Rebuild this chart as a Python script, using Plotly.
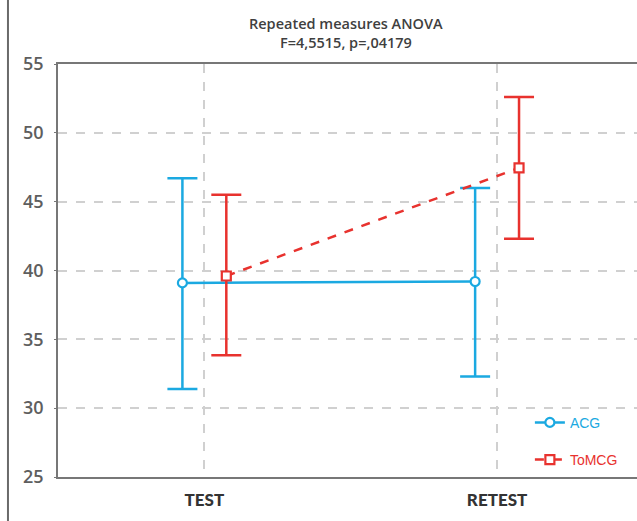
import plotly.graph_objects as go

# Sessions (x categories)
sessions = ["TEST", "RETEST"]

# Group means with confidence limits
acg_mean = [39.1, 39.2]
acg_upper = [46.7, 46.0]
acg_lower = [31.4, 32.3]

tomcg_mean = [39.6, 47.45]
tomcg_upper = [45.5, 52.6]
tomcg_lower = [33.85, 42.3]

y_ticks = [25, 30, 35, 40, 45, 50, 55]

BLUE = "#1BA9E1"
RED = "#E8322E"
OFFSET = 0.075

fig = go.Figure()


def add_group(name, mean, upper, lower, color, symbol, dash, shift):
    xs = [i + shift for i in range(len(sessions))]
    fig.add_trace(go.Scatter(
        x=xs, y=mean,
        mode="lines+markers",
        name=f"<span style='color:{color}'>{name}</span>",
        legendgroup=name,
        line=dict(color=color, width=2.5, dash=dash),
        marker=dict(symbol=symbol, size=9, color="white",
                    line=dict(color=color, width=2.2)),
        error_y=dict(type="data", symmetric=False,
                     array=[u - m for u, m in zip(upper, mean)],
                     arrayminus=[m - l for m, l in zip(mean, lower)],
                     color=color, thickness=2.5, width=15),
    ))


add_group("ACG", acg_mean, acg_upper, acg_lower, BLUE, "circle", "solid", -OFFSET)
add_group("ToMCG", tomcg_mean, tomcg_upper, tomcg_lower, RED, "square", "dash", OFFSET)

# Frame line along the left edge of the page
fig.add_shape(type="line", xref="paper", yref="paper",
              x0=-0.0864, x1=-0.0864, y0=-0.11, y1=1.16,
              line=dict(color="#6a6a6a", width=2))

# Two-line chart heading
title_font = dict(family="Open Sans, sans-serif", size=14.5, color="#3f3f3f", weight=600)
fig.add_annotation(text="Repeated measures ANOVA", xref="paper", yref="paper",
                   x=0.497, y=1 + (64 - 23) / 413, xanchor="center", yanchor="middle",
                   showarrow=False, font=title_font)
fig.add_annotation(text="F=4,5515, p=,04179", xref="paper", yref="paper",
                   x=0.497, y=1 + (64 - 43) / 413, xanchor="center", yanchor="middle",
                   showarrow=False, font=title_font)

fig.update_layout(
    width=637, height=521,
    margin=dict(l=58, r=0, t=64, b=44),
    paper_bgcolor="white", plot_bgcolor="white",
    font=dict(family="Lato, sans-serif", color="#444"),
    showlegend=True,
    legend=dict(
        x=0.815, y=0.17, xanchor="left", yanchor="top",
        bgcolor="rgba(0,0,0,0)", traceorder="grouped", tracegroupgap=16,
        font=dict(family="Liberation Sans, Arial, sans-serif", size=14),
    ),
    xaxis=dict(
        range=[-0.5, 1.478],
        tickvals=list(range(len(sessions))), ticktext=sessions,
        tickfont=dict(family="Lato, sans-serif", size=17, color="#333", weight=900),
        showgrid=True, gridcolor="#d0d0d0", griddash="dash", gridwidth=1.5,
        showline=True, linecolor="#777", linewidth=1.5, mirror=True,
        zeroline=False, ticks="", ticklabelstandoff=7,
    ),
    yaxis=dict(
        range=[25, 55], tickvals=y_ticks,
        tickfont=dict(family="Open Sans, sans-serif", size=18, color="#5e5e5e", weight=600),
        showgrid=True, gridcolor="#d0d0d0", griddash="dash", gridwidth=1.5,
        showline=True, linecolor="#777", linewidth=1.5,
        zeroline=False, ticks="outside", ticklen=2, tickcolor="#777",
        ticklabelstandoff=7,
    ),
)

fig.write_html("out.html")
